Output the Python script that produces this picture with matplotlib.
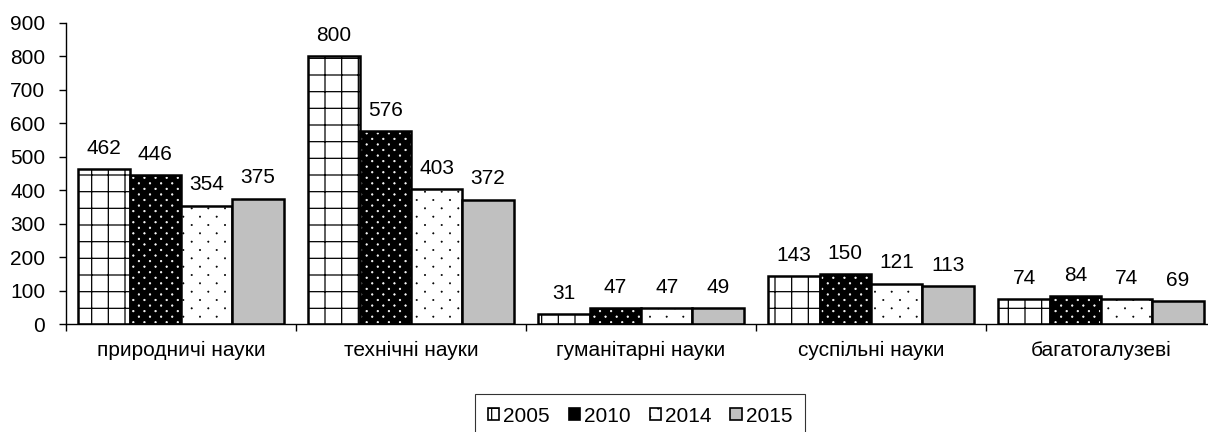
import numpy as np
import matplotlib.pyplot as plt
import matplotlib.hatch as mhatch
from matplotlib.path import Path
from matplotlib.patches import Patch

categories = ['природничі науки', 'технічні науки', 'гуманітарні науки',
              'суспільні науки', 'багатогалузеві']
years = ['2005', '2010', '2014', '2015']
v2005 = [462, 800, 31, 143, 74]
v2010 = [446, 576, 47, 150, 84]
v2014 = [354, 403, 47, 121, 74]
v2015 = [375, 372, 49, 113, 69]
series = [v2005, v2010, v2014, v2015]


# staggered dot lattices like the Excel pattern fills
class DotLattice(mhatch.HatchPatternBase):
    char = 'O'
    ncols, nrows, radius = 6, 12, 0.007

    def __init__(self, hatch, density):
        circ = Path.unit_circle()
        self.sv, self.sc = circ.vertices, circ.codes
        pts = []
        if hatch.count(self.char):
            for r in range(self.nrows + 1):
                if r % 2 == 0:
                    xs = np.arange(self.ncols + 1) / self.ncols
                else:
                    xs = (np.arange(self.ncols) + 0.5) / self.ncols
                pts += [(xx, r / self.nrows) for xx in xs]
        self.pts = pts
        self.num_vertices = len(pts) * len(self.sv)

    def set_vertices_and_codes(self, vertices, codes):
        vv = [self.sv * self.radius + p for p in self.pts]
        np.concatenate(vv, out=vertices)
        np.concatenate([self.sc] * len(self.pts), out=codes)


class DenseDots(DotLattice):
    char = 'o'
    ncols, nrows, radius = 9, 18, 0.0075


mhatch._hatch_types = [h for h in mhatch._hatch_types
                       if h not in (mhatch.SmallCircles, mhatch.LargeCircles)]
mhatch._hatch_types += [DotLattice, DenseDots]

plt.rcParams['font.family'] = ['Liberation Sans', 'DejaVu Sans']

fig = plt.figure(figsize=(12.08, 4.32), dpi=100)
ax = fig.add_axes([66 / 1208, 0.25, 1150 / 1208, 0.6968])

x = np.arange(len(categories))
w = 0.223
offsets = (np.arange(4) - 1.5) * w

styles = [
    dict(face='white', hatch='+', hcol='black', hlw=0.9),
    dict(face='black', hatch='o', hcol='white', hlw=0.5),
    dict(face='white', hatch='O', hcol='black', hlw=0.4),
    dict(face='#c0c0c0', hatch=None, hcol='black', hlw=0.9),
]

handles = []
for vals, off, st, yr in zip(series, offsets, styles, years):
    pos = x + off
    plt.rcParams['hatch.linewidth'] = st['hlw']
    ax.bar(pos, vals, w, color=st['face'], edgecolor=st['hcol'],
           hatch=st['hatch'], linewidth=0)
    bars = ax.bar(pos, vals, w, fill=False, edgecolor='black', linewidth=1.8)
    for b, v in zip(bars, vals):
        ax.annotate(str(v), (b.get_x() + b.get_width() / 2, v),
                    xytext=(0, 8), textcoords='offset points',
                    ha='center', va='bottom', fontsize=15)
    handles.append(Patch(facecolor=st['face'], edgecolor='black',
                         hatch=st['hatch'], linewidth=1.2, label=yr))

plt.rcParams['hatch.linewidth'] = 0.9

ax.set_ylim(0, 900)
ax.set_yticks(range(0, 901, 100))
ax.set_xlim(-0.5, len(categories) - 0.5)
ax.set_xticks(x)
ax.set_xticklabels(categories, fontsize=15)
ax.set_xticks(np.arange(len(categories) + 1) - 0.5, minor=True)
ax.tick_params(axis='x', which='major', length=0, pad=12)
ax.tick_params(axis='x', which='minor', length=5, width=1, direction='out')
ax.tick_params(axis='y', labelsize=15, length=5, width=1, direction='out', pad=10)
ax.spines['top'].set_visible(False)
ax.spines['right'].set_visible(False)
ax.spines['left'].set_linewidth(1)
ax.spines['bottom'].set_linewidth(1)

leg = fig.legend(handles=handles, loc='upper center',
                 bbox_to_anchor=(640 / 1208, 1 - 394 / 432), ncol=4,
                 fontsize=15, frameon=True, fancybox=False, edgecolor='black',
                 handlelength=0.55, handleheight=0.55, handletextpad=0.2,
                 columnspacing=0.9, borderpad=0.6, borderaxespad=0)
leg.get_frame().set_linewidth(0.8)

fig.savefig('out.png', dpi=100)
